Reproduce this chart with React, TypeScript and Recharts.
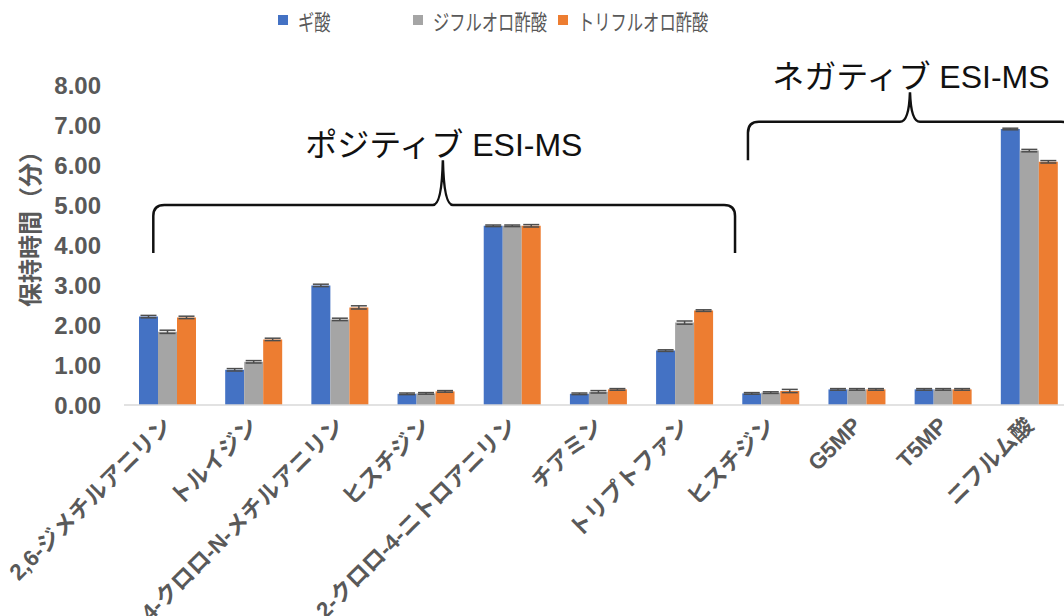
import React from 'react';
import {
  BarChart,
  Bar,
  XAxis,
  YAxis,
  Legend,
  ErrorBar,
  ReferenceArea,
  Label,
} from 'recharts';

const categories = [
  '2,6-ジメチルアニリン',
  'トルイジン',
  '4-クロロ-N-メチルアニリン',
  'ヒスチジン',
  '2-クロロ-4-ニトロアニリン',
  'チアミン',
  'トリプトファン',
  'ヒスチジン',
  'G5MP',
  'T5MP',
  'ニフルム酸',
];

const seriesNames = ['ギ酸', 'ジフルオロ酢酸', 'トリフルオロ酢酸'];
const seriesColors = ['#4472C4', '#A5A5A5', '#ED7D31'];

const formic = [2.21, 0.88, 2.99, 0.28, 4.48, 0.28, 1.36, 0.29, 0.39, 0.39, 6.9];
const difluoro = [1.83, 1.08, 2.14, 0.29, 4.48, 0.33, 2.06, 0.31, 0.39, 0.39, 6.36];
const trifluoro = [2.19, 1.64, 2.44, 0.34, 4.48, 0.39, 2.36, 0.35, 0.39, 0.39, 6.08];

const formicErr = [0.03, 0.03, 0.03, 0.02, 0.02, 0.02, 0.02, 0.02, 0.02, 0.02, 0.02];
const difluoroErr = [0.04, 0.03, 0.03, 0.02, 0.02, 0.03, 0.04, 0.02, 0.02, 0.02, 0.03];
const trifluoroErr = [0.03, 0.03, 0.04, 0.02, 0.03, 0.02, 0.02, 0.04, 0.02, 0.02, 0.03];

const yTicks = [0, 1, 2, 3, 4, 5, 6, 7, 8];

// brace annotations: group = first/last category index, x in category units, y in minutes
const braceLabels = ['ポジティブ ESI-MS', 'ネガティブ ESI-MS'];
const braceFirst = [0, 7];
const braceLast = [6, 10];
const braceStart = [0.34, 7.24];
const braceEnd = [7.09, 11.0];
const braceMid = [3.7, 9.12];
const braceFoot = [3.8, 6.12];
const braceBar = [5.0, 7.08];
const braceTip = [6.12, 7.82];

// legend item left edges
const legendLeft = [278, 413, 558];

const data = categories.map((name, i) => ({
  idx: i,
  name,
  formic: formic[i],
  difluoro: difluoro[i],
  trifluoro: trifluoro[i],
  formicErr: formicErr[i],
  difluoroErr: difluoroErr[i],
  trifluoroErr: trifluoroErr[i],
}));

const latinJp = '"Liberation Sans", Arial, "Noto Sans CJK JP", sans-serif';

const XTick = (props: any) => {
  const { x, y, payload } = props;
  return (
    <g transform={`translate(${x + 6},${y + 14})`}>
      <text
        x={0}
        y={0}
        textAnchor="end"
        transform="rotate(-45)"
        fill="#595959"
        fontSize={22.5}
        fontWeight="bold"
        fontFamily={latinJp}
      >
        {categories[payload.value]}
      </text>
    </g>
  );
};

const YTitle = (props: any) => {
  const { viewBox } = props;
  const cx = viewBox.x + 28;
  const cy = viewBox.y + viewBox.height / 2 - 22;
  return (
    <text
      x={cx}
      y={cy}
      transform={`rotate(-90, ${cx}, ${cy})`}
      textAnchor="middle"
      dominantBaseline="central"
      fill="#595959"
      fontSize={24}
      fontWeight="bold"
      fontFamily='"Noto Sans CJK JP", sans-serif'
    >
      保持時間（分）
    </text>
  );
};

const makeBrace = (i: number) => (p: any) => {
  const { x, y, width, height } = p;
  const bandW = width / (braceLast[i] - braceFirst[i] + 1);
  const px = (u: number) => x + (u - braceFirst[i]) * bandW;
  const x0 = px(braceStart[i]);
  const x1 = px(braceEnd[i]);
  const xc = px(braceMid[i]);
  const perUnit = height / (braceTip[i] - braceFoot[i]);
  const yTip = y;
  const yFoot = y + height;
  const yBar = y + (braceTip[i] - braceBar[i]) * perUnit;
  const r = 11;
  const d = [
    `M ${x0} ${yFoot}`,
    `L ${x0} ${yBar + r}`,
    `Q ${x0} ${yBar} ${x0 + r} ${yBar}`,
    `L ${xc - 10} ${yBar}`,
    `Q ${xc - 1} ${yBar} ${xc} ${yTip}`,
    `Q ${xc + 1} ${yBar} ${xc + 10} ${yBar}`,
    `L ${x1 - r} ${yBar}`,
    `Q ${x1} ${yBar} ${x1} ${yBar + r}`,
    `L ${x1} ${yFoot}`,
  ].join(' ');
  return (
    <g>
      <path d={d} fill="none" stroke="#111" strokeWidth={2.5} />
      <text
        x={xc + 1}
        y={yTip - 4}
        textAnchor="middle"
        fill="#111"
        fontSize={32}
        fontFamily={latinJp}
      >
        {braceLabels[i]}
      </text>
    </g>
  );
};

const renderLegend = (props: any) => {
  const { payload } = props;
  return (
    <div style={{ position: 'relative', width: 1064, height: 30 }}>
      {payload.map((entry: any, i: number) => (
        <div
          key={entry.value}
          style={{
            position: 'absolute',
            left: legendLeft[i],
            top: 0,
            height: 30,
            display: 'flex',
            alignItems: 'center',
            whiteSpace: 'nowrap',
          }}
        >
          <span
            style={{
              display: 'inline-block',
              width: 10,
              height: 10,
              background: entry.color,
              marginRight: 10,
            }}
          />
          <span
            style={{
              display: 'inline-block',
              color: '#595959',
              fontSize: 22,
              fontFamily: '"Noto Sans CJK JP", sans-serif',
              transform: 'scaleX(0.74)',
              transformOrigin: 'left center',
            }}
          >
            {entry.value}
          </span>
        </div>
      ))}
    </div>
  );
};

export default function App() {
  return (
    <div
      style={{
        position: 'absolute',
        left: 0,
        top: 0,
        width: 1064,
        height: 616,
        overflow: 'hidden',
        background: '#fff',
      }}
    >
      <BarChart
        width={1080}
        height={616}
        data={data}
        margin={{ top: 85, right: 8, bottom: 0, left: 0 }}
        barGap={0}
        barSize={19}
      >
        <XAxis
          dataKey="idx"
          type="category"
          height={211}
          interval={0}
          tick={<XTick />}
          tickLine={false}
          axisLine={{ stroke: '#d9d9d9', strokeWidth: 1.5 }}
        />
        <YAxis
          width={124}
          domain={[0, 8]}
          ticks={yTicks}
          interval={0}
          tickFormatter={(v: number) => v.toFixed(2)}
          axisLine={false}
          tickLine={false}
          tickSize={0}
          tickMargin={23}
          tick={{ fill: '#595959', fontSize: 24, fontWeight: 'bold', fontFamily: latinJp }}
        >
          <Label content={<YTitle />} />
        </YAxis>
        <Legend
          layout="horizontal"
          verticalAlign="middle"
          align="center"
          wrapperStyle={{ top: 5, left: 0, width: 1064 }}
          content={renderLegend}
        />
        <Bar dataKey="formic" name={seriesNames[0]} fill={seriesColors[0]} isAnimationActive={false}>
          <ErrorBar dataKey="formicErr" width={8} stroke="#4d4d4d" strokeWidth={1.5} direction="y" />
        </Bar>
        <Bar dataKey="difluoro" name={seriesNames[1]} fill={seriesColors[1]} isAnimationActive={false}>
          <ErrorBar dataKey="difluoroErr" width={8} stroke="#4d4d4d" strokeWidth={1.5} direction="y" />
        </Bar>
        <Bar dataKey="trifluoro" name={seriesNames[2]} fill={seriesColors[2]} isAnimationActive={false}>
          <ErrorBar dataKey="trifluoroErr" width={8} stroke="#4d4d4d" strokeWidth={1.5} direction="y" />
        </Bar>
        {braceLabels.map((label, i) => (
          <ReferenceArea
            key={label}
            x1={braceFirst[i]}
            x2={braceLast[i]}
            y1={braceFoot[i]}
            y2={braceTip[i]}
            ifOverflow="visible"
            shape={makeBrace(i)}
          />
        ))}
      </BarChart>
    </div>
  );
}
